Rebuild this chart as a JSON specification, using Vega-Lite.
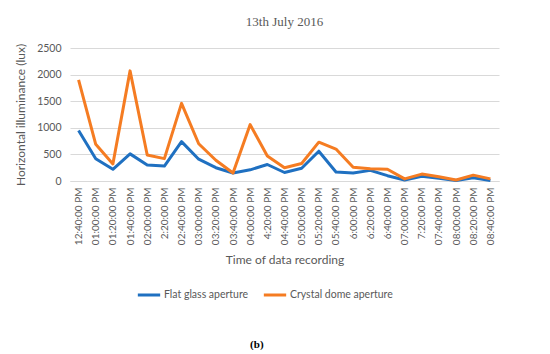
{
  "$schema": "https://vega.github.io/schema/vega-lite/v6.json",
  "background": "white",
  "padding": {"left": 14, "top": 16, "right": 10, "bottom": 0},
  "title": {"text": "(b)", "orient": "bottom", "font": "Liberation Serif", "fontSize": 11, "fontWeight": "bold", "color": "#000000", "offset": 38, "anchor": "middle"},
  "config": {
    "font": "Lato",
    "view": {"stroke": null},
    "axis": {"labelColor": "#595959", "titleColor": "#595959", "titleFontWeight": "normal", "labelFont": "Lato", "titleFont": "Lato", "gridColor": "#d9d9d9", "domainColor": "#d9d9d9", "ticks": false},
    "legend": {"labelColor": "#595959", "labelFont": "Lato", "labelFontSize": 10.5}
  },
  "vconcat": [
    {
      "width": 429,
      "height": 133,
      "title": {"text": "13th July 2016", "font": "Liberation Serif", "fontSize": 13, "fontWeight": "normal", "color": "#595959", "anchor": "middle", "offset": 14},
      "data": {"values": [
        {"t": "12:40:00 PM", "s": "Flat glass aperture", "v": 950},
        {"t": "01:00:00 PM", "s": "Flat glass aperture", "v": 420},
        {"t": "01:20:00 PM", "s": "Flat glass aperture", "v": 220},
        {"t": "01:40:00 PM", "s": "Flat glass aperture", "v": 510},
        {"t": "02:00:00 PM", "s": "Flat glass aperture", "v": 300},
        {"t": "2:20:00 PM", "s": "Flat glass aperture", "v": 280},
        {"t": "02:40:00 PM", "s": "Flat glass aperture", "v": 740},
        {"t": "03:00:00 PM", "s": "Flat glass aperture", "v": 410},
        {"t": "03:20:00 PM", "s": "Flat glass aperture", "v": 250},
        {"t": "03:40:00 PM", "s": "Flat glass aperture", "v": 150},
        {"t": "04:00:00 PM", "s": "Flat glass aperture", "v": 210},
        {"t": "4:20:00 PM", "s": "Flat glass aperture", "v": 310},
        {"t": "04:40:00 PM", "s": "Flat glass aperture", "v": 160},
        {"t": "05:00:00 PM", "s": "Flat glass aperture", "v": 240},
        {"t": "05:20:00 PM", "s": "Flat glass aperture", "v": 560},
        {"t": "05:40:00 PM", "s": "Flat glass aperture", "v": 170},
        {"t": "6:00:00 PM", "s": "Flat glass aperture", "v": 150},
        {"t": "6:20:00 PM", "s": "Flat glass aperture", "v": 200},
        {"t": "6:40:00 PM", "s": "Flat glass aperture", "v": 100},
        {"t": "07:00:00 PM", "s": "Flat glass aperture", "v": 20},
        {"t": "7:20:00 PM", "s": "Flat glass aperture", "v": 90},
        {"t": "07:40:00 PM", "s": "Flat glass aperture", "v": 50},
        {"t": "08:00:00 PM", "s": "Flat glass aperture", "v": 10},
        {"t": "08:20:00 PM", "s": "Flat glass aperture", "v": 60},
        {"t": "08:40:00 PM", "s": "Flat glass aperture", "v": 10},
        {"t": "12:40:00 PM", "s": "Crystal dome aperture", "v": 1900},
        {"t": "01:00:00 PM", "s": "Crystal dome aperture", "v": 690},
        {"t": "01:20:00 PM", "s": "Crystal dome aperture", "v": 320},
        {"t": "01:40:00 PM", "s": "Crystal dome aperture", "v": 2070},
        {"t": "02:00:00 PM", "s": "Crystal dome aperture", "v": 490},
        {"t": "2:20:00 PM", "s": "Crystal dome aperture", "v": 420},
        {"t": "02:40:00 PM", "s": "Crystal dome aperture", "v": 1460},
        {"t": "03:00:00 PM", "s": "Crystal dome aperture", "v": 700},
        {"t": "03:20:00 PM", "s": "Crystal dome aperture", "v": 390},
        {"t": "03:40:00 PM", "s": "Crystal dome aperture", "v": 150},
        {"t": "04:00:00 PM", "s": "Crystal dome aperture", "v": 1060},
        {"t": "4:20:00 PM", "s": "Crystal dome aperture", "v": 470},
        {"t": "04:40:00 PM", "s": "Crystal dome aperture", "v": 250},
        {"t": "05:00:00 PM", "s": "Crystal dome aperture", "v": 330},
        {"t": "05:20:00 PM", "s": "Crystal dome aperture", "v": 730},
        {"t": "05:40:00 PM", "s": "Crystal dome aperture", "v": 600},
        {"t": "6:00:00 PM", "s": "Crystal dome aperture", "v": 260},
        {"t": "6:20:00 PM", "s": "Crystal dome aperture", "v": 230},
        {"t": "6:40:00 PM", "s": "Crystal dome aperture", "v": 220},
        {"t": "07:00:00 PM", "s": "Crystal dome aperture", "v": 40},
        {"t": "7:20:00 PM", "s": "Crystal dome aperture", "v": 130},
        {"t": "07:40:00 PM", "s": "Crystal dome aperture", "v": 80},
        {"t": "08:00:00 PM", "s": "Crystal dome aperture", "v": 20},
        {"t": "08:20:00 PM", "s": "Crystal dome aperture", "v": 110},
        {"t": "08:40:00 PM", "s": "Crystal dome aperture", "v": 40}
      ]},
      "mark": {"type": "line", "strokeWidth": 3, "strokeJoin": "round"},
      "encoding": {
        "x": {"field": "t", "type": "nominal", "sort": null, "scale": {"type": "point", "padding": 0.5},
              "axis": {"title": "Time of data recording", "titleFontSize": 12, "labelAngle": -90, "labelFontSize": 10, "labelPadding": 6, "grid": false, "titlePadding": 10}},
        "y": {"field": "v", "type": "quantitative", "scale": {"domain": [0, 2500]},
              "axis": {"title": "Horizontal illuminance (lux)", "titleFontSize": 12, "labelFontSize": 10.5, "format": "d", "values": [0, 500, 1000, 1500, 2000, 2500], "domain": false, "labelPadding": 9, "titlePadding": 9}},
        "color": {"field": "s", "type": "nominal",
                  "scale": {"domain": ["Flat glass aperture", "Crystal dome aperture"], "range": ["#1f70c1", "#f57c22"]},
                  "legend": {"title": null, "orient": "none", "legendX": 66, "legendY": 234, "direction": "horizontal", "symbolType": "stroke", "symbolStrokeWidth": 3, "symbolSize": 500, "columnPadding": 8, "labelOffset": 2}}
      }
    }
  ]
}
